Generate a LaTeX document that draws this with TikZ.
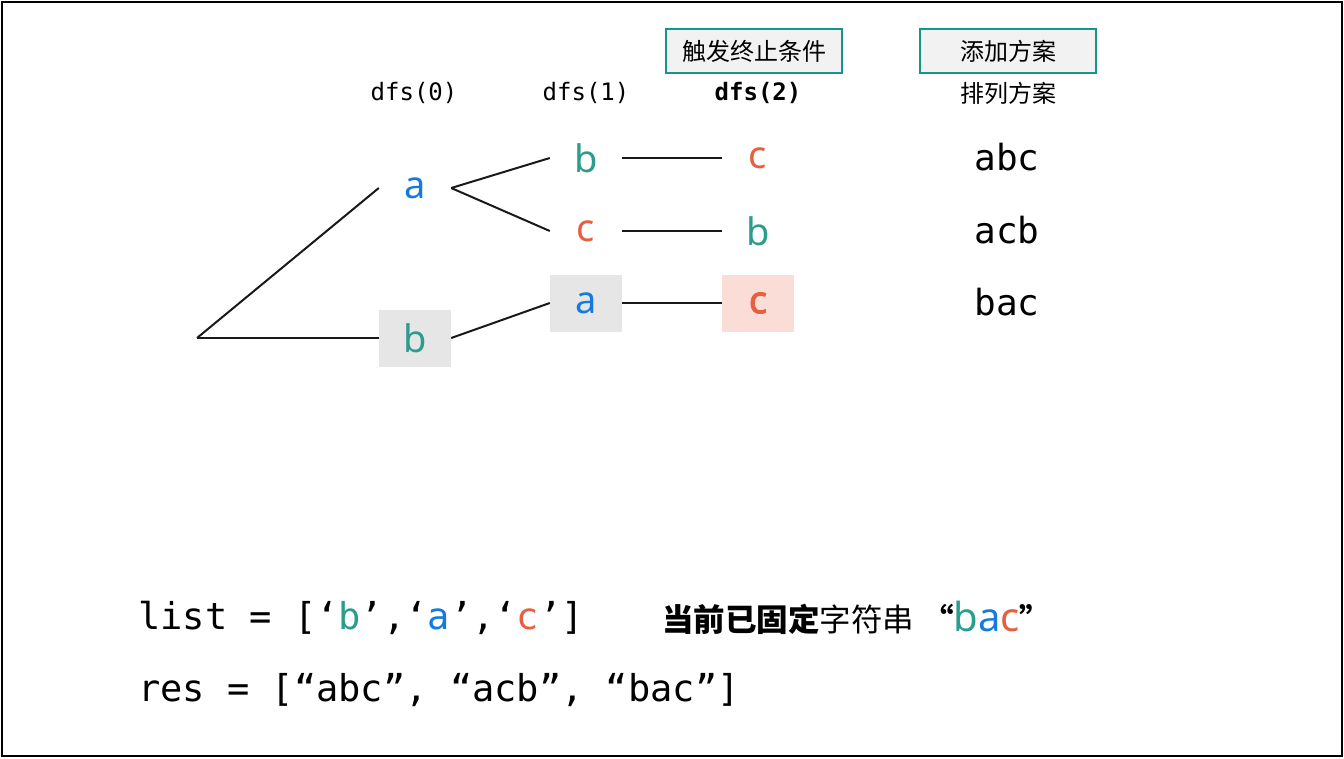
\documentclass[tikz,border=0pt]{standalone}
\usepackage{fontspec}
\setmainfont{Noto Sans}
\setmonofont{DejaVu Sans Mono}
\newfontfamily\cjk{Noto Sans CJK SC}
\newfontfamily\bsans{Noto Sans}[FakeBold=2.2]
\definecolor{cA}{HTML}{1479E0}
\definecolor{cB}{HTML}{2A9D8C}
\definecolor{cC}{HTML}{E6603F}
\definecolor{frameteal}{HTML}{16968A}
\definecolor{boxgray}{HTML}{E6E6E6}
\definecolor{boxpink}{HTML}{F9DDD6}
\definecolor{hdrgray}{HTML}{F2F2F2}
\begin{document}
\begin{tikzpicture}[x=1pt,y=-1pt,
  nd/.style={minimum width=72pt,minimum height=57pt,inner sep=0pt,font=\fontsize{38}{44}\selectfont},
  ln/.style={line width=2pt,draw=black!90},
  hbox/.style={draw=frameteal,line width=2pt,fill=hdrgray,minimum width=176pt,minimum height=44pt,inner sep=0pt,font=\cjk\fontsize{24}{28}\selectfont},
  lvl/.style={inner sep=0pt,font=\ttfamily\fontsize{24}{28}\selectfont},
  res/.style={inner sep=0pt,font=\ttfamily\fontsize{36}{42}\selectfont},
  code/.style={inner sep=0pt,anchor=west,font=\ttfamily\fontsize{37}{44}\selectfont}]
\useasboundingbox (0,0) rectangle (1344,758);
\draw[line width=2.5pt] (2,2) rectangle (1342,756);

% header boxes
\node[hbox] (trig) at (754,51) {触发终止条件};
\node[hbox] (add) at (1008,51) {添加方案};
\node[inner sep=0pt,font=\cjk\fontsize{24}{28}\selectfont] (perm) at (1008,93) {排列方案};

% level labels
\node[lvl] (d0) at (414,93) {dfs(0)};
\node[lvl] (d1) at (586,93) {dfs(1)};
\node[lvl,font=\ttfamily\bfseries\fontsize{24}{28}\selectfont] (d2) at (758,93) {dfs(2)};

% tree nodes
\coordinate (root) at (197,338);
\node[nd,text=cA] (n0a) at (415,188) {a};
\node[nd,text=cB,fill=boxgray] (n0b) at (415,338) {b};
\node[nd,text=cB] (n1b) at (586,158) {b};
\node[nd,text=cC] (n1c) at (586,231) {c};
\node[nd,text=cA,fill=boxgray] (n1a) at (586,303) {a};
\node[nd,text=cC] (n2c) at (758,158) {c};
\node[nd,text=cB] (n2b) at (758,231) {b};
\node[nd,text=cC,fill=boxpink,font=\bsans\fontsize{38}{44}\selectfont] (n2cc) at (758,303) {c};

\draw[ln] (root) -- (n0a.west);
\draw[ln] (root) -- (n0b.west);
\draw[ln] (n0a.east) -- (n1b.west);
\draw[ln] (n0a.east) -- (n1c.west);
\draw[ln] (n0b.east) -- (n1a.west);
\draw[ln] (n1b.east) -- (n2c.west);
\draw[ln] (n1c.east) -- (n2b.west);
\draw[ln] (n1a.east) -- (n2cc.west);

% results
\node[res] (r1) at (1007,157) {abc};
\node[res] (r2) at (1007,230) {acb};
\node[res] (r3) at (1007,302) {bac};

% bottom text
\node[code] (list) at (138,618) {list = [‘\textcolor{cB}{b}’,‘\textcolor{cA}{a}’,‘\textcolor{cC}{c}’]};
\node[code] (resl) at (138,690) {res = [“abc”, “acb”, “bac”]};
\node[inner sep=0pt,anchor=west,font=\cjk\fontsize{31.5}{36}\selectfont] (fixed) at (662,618) {{\bfseries 当前已固定}字符串\hspace{8pt}{\bfseries “}{\rmfamily\fontsize{40}{46}\selectfont\textcolor{cB}{b}\textcolor{cA}{a}\textcolor{cC}{c}}{\bfseries ”}};
\end{tikzpicture}
\end{document}
